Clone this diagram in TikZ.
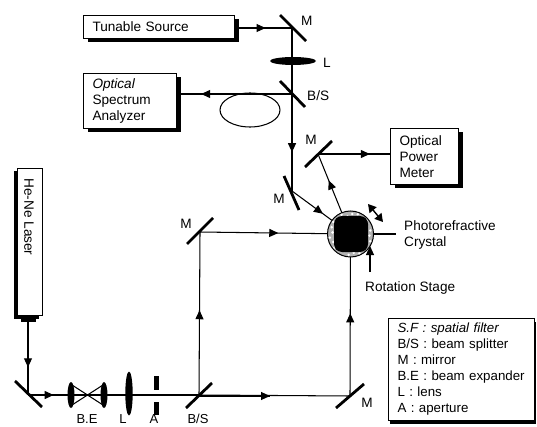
\documentclass[tikz,border=0pt]{standalone}
\usepackage{fontspec}
\setmainfont{Liberation Sans}
\usetikzlibrary{arrows.meta,decorations.markings,shadows}
\tikzset{
  beam/.style={line width=1.05pt},
  tipat/.style={postaction={decorate},decoration={markings,mark=at position #1 with {\arrow{Triangle[length=9pt,width=8pt]}}}},
  mirror/.style={line width=2.8pt},
  lensshape/.style={fill=black,draw=none},
  box/.style={draw=black,line width=1pt,fill=white,anchor=north west,align=left,inner xsep=9pt,inner ysep=0pt,
    font=\fontsize{13.6}{16}\selectfont,
    drop shadow={shadow xshift=4pt,shadow yshift=-4pt,opacity=1,fill=black}},
  keybox/.style={draw=black,line width=1pt,fill=white,anchor=north west,align=left,inner xsep=9pt,inner ysep=0pt,
    font=\fontsize{13.3}{16}\selectfont,
    drop shadow={shadow xshift=1pt,shadow yshift=-3pt,opacity=1,fill=black}},
  lab/.style={font=\fontsize{13.6}{16}\selectfont,inner sep=0pt,align=left},
  lowlab/.style={font=\fontsize{13}{13}\selectfont,inner sep=0pt,anchor=base},
}
\begin{document}
\begin{tikzpicture}[x=1pt,y=-1pt]
\useasboundingbox (0,0) rectangle (537,427);
% instruments
\node[box,text width=133pt,minimum height=23pt] (src) at (83,15) {Tunable Source};
\node[box,text width=75pt,minimum height=55pt] (osa) at (83,73) {\textit{Optical}\\Spectrum\\Analyzer};
\node[box,text width=50pt,minimum height=56pt] (opm) at (390,128) {Optical\\Power\\Meter};
\node[draw=black,line width=1pt,fill=white,anchor=north west,inner sep=0pt,minimum width=25pt,minimum height=147pt,
  drop shadow={shadow xshift=-4pt,shadow yshift=-3pt,opacity=1,fill=black}] (laser) at (17,168) {};
\node[lab,rotate=-90] (lasertext) at (29,217) {He-Ne Laser};
\fill (21,315) rectangle (36,322);
\coordinate (nozzle) at (28,322);
% beam points
\coordinate (m1) at (292,28);
\coordinate (bs1) at (292,94);
\coordinate (m2) at (292,191);
\coordinate (m3) at (318,154);
\coordinate (m4) at (200,232);
\coordinate (m5) at (28,395);
\coordinate (bs2) at (199,395);
\coordinate (m6) at (350,396);
\coordinate (cr) at (350.5,234);
\coordinate (crout) at (396,234);
\coordinate (bsout) at (270,396);
% fibre loop
\draw[beam] (250,110) ellipse [x radius=30,y radius=17];
% beams
\draw[beam,tipat=0.51] (238,28) -- (m1);
\draw[beam] (m1) -- (bs1);
\draw[beam,tipat=0.79] (bs1) -- (osa.east |- bs1);
\draw[beam,tipat=0.6] (bs1) -- (m2);
\draw[beam,tipat=0.53] (m2) -- (cr);
\draw[beam,tipat=0.67] (cr) -- (m3);
\draw[beam,tipat=0.72] (m3) -- (opm.west |- m3);
\draw[beam,tipat=0.62] (nozzle) -- (m5);
\draw[beam,tipat=0.15] (m5) -- (bs2);
\draw[beam,tipat=0.52] (bs2) -- (m4);
\draw[beam,tipat=0.52] (m4) -- (cr);
\draw[beam,tipat=1] (bs2 |- bsout) -- (bsout);
\draw[beam] (bs2) -- (m6);
\draw[beam,tipat=0.51] (m6) -- (cr);
\draw[beam] (cr) -- (crout);
% mirrors
\draw[mirror] (280,15) -- (306,41);
\draw[mirror] (280,81) -- (305,107);
\draw[mirror] (284,176) -- (299,210);
\draw[mirror] (305,167) -- (332,141);
\draw[mirror] (187,244) -- (213,218);
\draw[mirror] (15,381) -- (42,407);
\draw[mirror] (186,408) -- (212,383);
\draw[mirror] (336,408) -- (364,384);
% lens L, beam expander, aperture
\fill[lensshape] (293,61) ellipse [x radius=23,y radius=4];
\fill[lensshape] (71,395) ellipse [x radius=3.5,y radius=13];
\fill[lensshape] (104,395) ellipse [x radius=3.5,y radius=13];
\draw[beam] (72,385) -- (103,405) (72,405) -- (103,385);
\fill[lensshape] (129,393.5) ellipse [x radius=3.7,y radius=22];
\fill (153.5,376) rectangle (158.5,390);
\fill (153.5,402) rectangle (158.5,415);
% crystal on rotation stage
\fill[gray!60] (cr) circle [radius=23];
\draw[line width=1pt] (cr) circle [radius=23];
\foreach \a/\r in {5/19,20/21,35/18,50/20,65/21,80/19,95/21,110/18,125/20,140/21,155/19,170/21,185/18,200/20,215/21,230/19,245/21,260/18,275/20,290/21,305/19,320/21,335/18,350/20}
  \fill[white] (cr) ++(\a:\r) circle [radius=1.4];
\fill[rounded corners=8pt] (334,216) rectangle (368,252);
% translation arrow and rotation-stage pointer
\draw[line width=1.4pt,{Triangle[length=8pt,width=9pt]}-{Triangle[length=8pt,width=9pt]}] (368,204) -- (383,222);
\coordinate (stagefoot) at (370,272);
\coordinate (stagetip) at (370,246);
\draw[line width=1.1pt,-{Triangle[length=9pt,width=8pt]}] (stagefoot) -- (stagetip);
% labels
\node[lab,anchor=west] (lm1) at (301,21) {M};
\node[lab,anchor=west] (ll) at (323,63) {L};
\node[lab,anchor=west] (lbs1) at (307,96) {B/S};
\node[lab,anchor=center] (lm3) at (311,140) {M};
\node[lab,anchor=center] (lm2) at (279,199) {M};
\node[lab,anchor=center] (lm4) at (186,224) {M};
\node[lab,anchor=center] (lm6) at (367,403) {M};
\node[lab,anchor=west] (lcrystal) at (404,235) {Photorefractive\\Crystal};
\node[lab,anchor=west] (lstage) at (365,288) {Rotation Stage};
% labels under the optics
\node[lowlab] (lbe) at (87,423) {B.E};
\node[lowlab] (ll2) at (123,423) {L};
\node[lowlab] (la) at (154,423) {A};
\node[lowlab] (lbs2) at (198,423) {B/S};
% key
\node[keybox,text width=128pt,minimum height=102pt] (key) at (388,318)
 {\textit{S.F : spatial filter}\\B/S : beam splitter\\M : mirror\\B.E : beam expander\\L : lens\\A : aperture};
\end{tikzpicture}
\end{document}
